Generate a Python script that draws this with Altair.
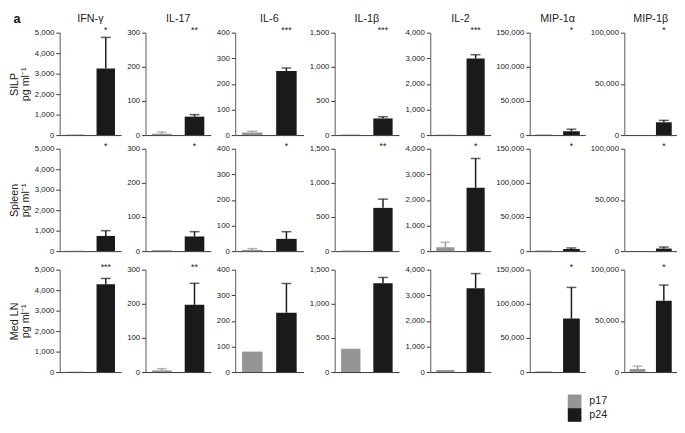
import altair as alt
import pandas as pd

cytokines = ["IFN-γ", "IL-17", "IL-6", "IL-1β", "IL-2", "MIP-1α", "MIP-1β"]
tissues = ["SILP", "Spleen", "Med LN"]
groups = ["p17", "p24"]
y_max = [5000, 300, 400, 1500, 4000, 150000, 100000]
y_step = [1000, 100, 100, 500, 1000, 50000, 50000]

p17_mean = {
    "SILP":   [30, 4, 10, 8, 20, 1000, 0],
    "Spleen": [20, 3, 5, 10, 152, 1000, 0],
    "Med LN": [20, 5, 80, 343, 80, 1000, 3000],
}
p17_upper = {
    "SILP":   [None, 9, 15, None, None, None, None],
    "Spleen": [None, None, 10, None, 343, None, None],
    "Med LN": [None, 10, None, None, None, None, 5900],
}
p24_mean = {
    "SILP":   [3250, 54, 250, 244, 2990, 5700, 12500],
    "Spleen": [743, 43, 48, 634, 2476, 3300, 2500],
    "Med LN": [4286, 197, 232, 1300, 3276, 78600, 69600],
}
p24_upper = {
    "SILP":   [4770, 60, 262, 269, 3140, 8600, 14400],
    "Spleen": [1000, 57, 76, 762, 3619, 4700, 4000],
    "Med LN": [4571, 260, 346, 1386, 3848, 124000, 85000],
}
stars = {
    "SILP":   ["*", "**", "***", "***", "***", "*", "*"],
    "Spleen": ["*", "*", "*", "**", "*", "*", "*"],
    "Med LN": ["***", "**", "", "", "", "*", "*"],
}

widths = [63, 67, 70, 66, 62, 57, 54]
HEIGHT = 105
COLORS = ["#959595", "#1a1a1a"]
color_scale = alt.Scale(domain=groups, range=COLORS)


def panel(r, c):
    t = tissues[r]
    bars_df = pd.DataFrame({"group": groups,
                            "mean": [p17_mean[t][c], p24_mean[t][c]]})
    err_rows = []
    for g, m, u in [("p17", p17_mean[t][c], p17_upper[t][c]),
                    ("p24", p24_mean[t][c], p24_upper[t][c])]:
        if u is not None:
            err_rows.append({"group": g, "mean": m, "upper": u})
    err_df = pd.DataFrame(err_rows)
    star_df = pd.DataFrame({"group": ["p24"], "star": [stars[t][c]],
                            "top": [y_max[c]]})

    xenc = alt.X("group:N",
                 scale=alt.Scale(domain=groups, paddingInner=0.4, paddingOuter=0.2),
                 axis=alt.Axis(labels=False, ticks=False, title=None,
                               domainColor="#333", domainWidth=1))
    yscale = alt.Scale(domain=[0, y_max[c]], nice=False, zero=True)
    yaxis = alt.Axis(values=list(range(0, y_max[c] + 1, y_step[c])),
                     format=",.0f",
                     labelOverlap=False, labelFlush=False,
                     labelFontSize=8, labelColor="#222", tickSize=4,
                     tickColor="#333", domainColor="#555", grid=False,
                     title=[t, "pg ml⁻¹"] if c == 0 else None,
                     titleFontSize=11, titleFontWeight="normal",
                     titleLineHeight=11,
                     titleColor="#222", titlePadding=4)

    def Y(field):
        return alt.Y(field, scale=yscale, axis=yaxis)

    bars = alt.Chart(bars_df).mark_bar().encode(
        x=xenc,
        y=Y("mean:Q"),
        color=alt.Color("group:N", scale=color_scale,
                        legend=alt.Legend(title=None, orient="none",
                                          legendX=521, legendY=371,
                                          symbolType="square", symbolSize=196,
                                          symbolStrokeWidth=0,
                                          labelFontSize=11, labelColor="#222",
                                          rowPadding=0, labelOffset=8)),
    )
    layers = [bars]
    if len(err_df):
        rule = alt.Chart(err_df).mark_rule(strokeWidth=1.5).encode(
            x=xenc, y=Y("mean:Q"), y2="upper:Q",
            color=alt.Color("group:N", scale=color_scale, legend=None))
        cap = alt.Chart(err_df).mark_tick(thickness=1.5, size=10).encode(
            x=xenc, y=Y("upper:Q"),
            color=alt.Color("group:N", scale=color_scale, legend=None))
        layers += [rule, cap]
    star = alt.Chart(star_df).mark_text(fontSize=9, color="#222", dy=-3,
                                        baseline="middle").encode(
        x=xenc, y=Y("top:Q"), text="star:N")
    layers.append(star)

    props = dict(width=widths[c], height=HEIGHT)
    if r == 0:
        props["title"] = alt.TitleParams(cytokines[c], fontSize=11,
                                         fontWeight="normal", color="#222",
                                         offset=2)
    return alt.layer(*layers).properties(**props)


rows = [alt.hconcat(*[panel(r, c) for c in range(7)], spacing=5)
        for r in range(3)]

chart = alt.vconcat(rows[0], alt.vconcat(rows[1], rows[2], spacing=8),
                    spacing=3).properties(
    padding=0,
    title=alt.TitleParams("a", orient="left", angle=0, anchor="end",
                          align="left", baseline="top", offset=-12,
                          fontSize=13, fontWeight="bold", color="#111"),
).configure(font="Liberation Sans").configure_view(stroke=None)

chart.save("out.html", embed_options={"renderer": "svg", "actions": False})
